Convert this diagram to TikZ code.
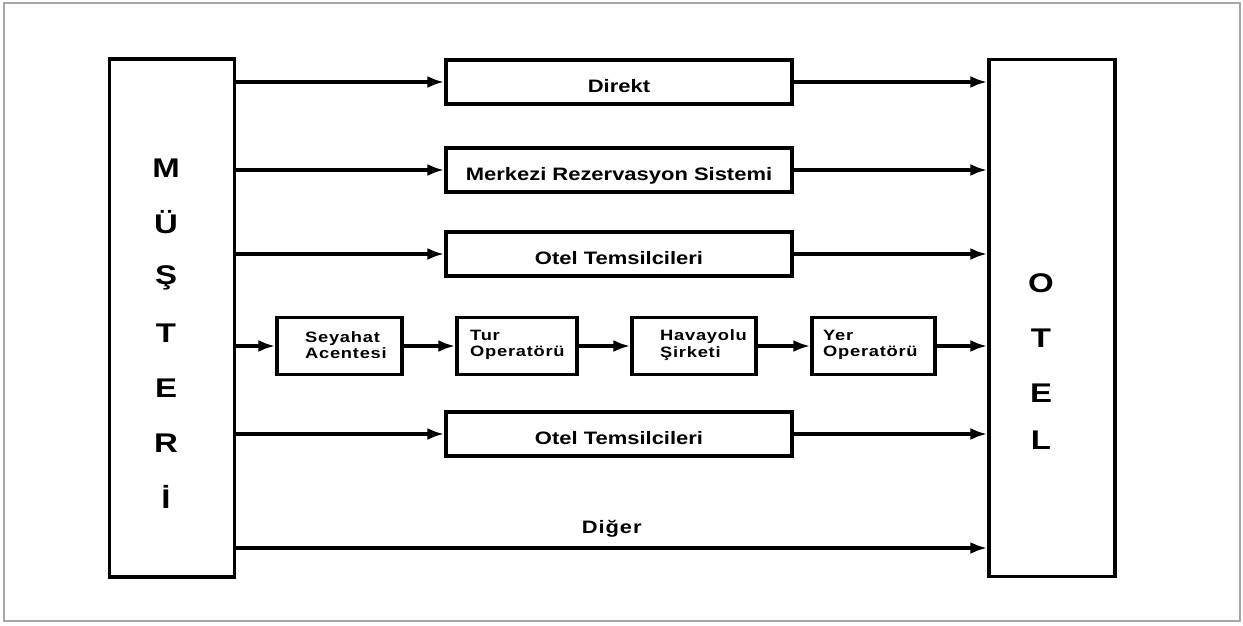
\documentclass[tikz,border=0pt]{standalone}
\usepackage{fontspec}
\setmainfont{Liberation Sans}
\newfontfamily\extA[FakeStretch=1.22]{Liberation Sans}
\newfontfamily\extB[FakeStretch=1.22,LetterSpace=5]{Liberation Sans}
\usetikzlibrary{arrows.meta}
\begin{document}
\begin{tikzpicture}[x=1pt,y=-1pt,
  boxs/.style={draw=black,line width=3.4pt,inner sep=0pt},
  lbl/.style={font=\extA\bfseries\fontsize{18}{18}\selectfont,text depth=0pt,text height=20pt},
  sml/.style={font=\extB\bfseries\fontsize{15}{16.5}\selectfont,align=left,anchor=west,inner sep=0pt},
  big/.style={font=\extA\bfseries\fontsize{27}{27}\selectfont},
  arr/.style={line width=3.4pt,-{Latex[length=17pt,width=12pt]}}
]
\useasboundingbox (0,0) rectangle (1243,625);
\draw[gray!70,line width=1.5pt] (4,3) rectangle (1240,621);
% side boxes
\node[boxs,minimum width=125pt,minimum height=518pt] (mus) at (172,318) {};
\node[boxs,minimum width=126pt,minimum height=517pt] (otel) at (1052,318) {};
% letters
\foreach \t/\y [count=\i] in {M/168,Ü/222,Ş/278,T/333,E/388,R/443,İ/497}{
  \node[big] (m\i) at (166,\y) {\t};}
\foreach \t/\y [count=\i] in {O/283,T/338,E/393,L/440}{
  \node[big] (o\i) at (1041,\y) {\t};}
% middle boxes
\node[boxs,minimum width=346pt,minimum height=44pt,lbl] (dir) at (619,82) {Direkt};
\node[boxs,minimum width=346pt,minimum height=44pt,lbl] (mrs) at (619,170) {Merkezi Rezervasyon Sistemi};
\node[boxs,minimum width=346pt,minimum height=44pt,lbl] (ot1) at (619,254) {Otel Temsilcileri};
\node[boxs,minimum width=346pt,minimum height=44pt,lbl] (ot2) at (619,434) {Otel Temsilcileri};
% chain boxes
\node[boxs,minimum width=125pt,minimum height=57pt] (sa) at (339.5,346) {};
\node[boxs,minimum width=120pt,minimum height=57pt] (to) at (517,346) {};
\node[boxs,minimum width=124pt,minimum height=57pt] (hs) at (694,346) {};
\node[boxs,minimum width=123pt,minimum height=57pt] (yo) at (873.5,346) {};
\node[sml] (sat) at (305,345) {Seyahat\\Acentesi};
\node[sml] (tot) at (470,345) {Tur\\Operatörü};
\node[sml] (hst) at (660,345) {Havayolu\\Şirketi};
\node[sml] (yot) at (823,345) {Yer\\Operatörü};
% arrows
\foreach \n in {dir,mrs,ot1,ot2}{
  \draw[arr] (mus.east |- \n.west) -- (\n.west);
  \draw[arr] (\n.east) -- (otel.west |- \n.east);
}
\draw[arr] (mus.east |- sa.west) -- (sa.west);
\draw[arr] (sa.east) -- (to.west);
\draw[arr] (to.east) -- (hs.west);
\draw[arr] (hs.east) -- (yo.west);
\draw[arr] (yo.east) -- (otel.west |- yo.east);
\coordinate (dl) at (mus.east |- 0,548);
\draw[arr] (dl) -- (otel.west |- dl) node[midway,above=6pt,font=\extB\bfseries\fontsize{18}{18}\selectfont] (dig) {Diğer};
\end{tikzpicture}
\end{document}
